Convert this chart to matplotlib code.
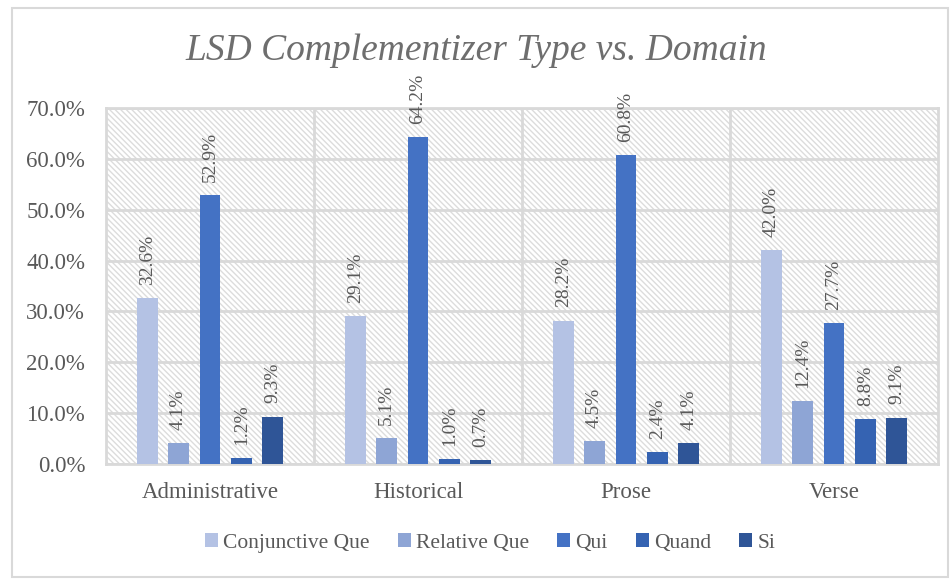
import numpy as np
import matplotlib.pyplot as plt
from matplotlib.patches import Rectangle
from matplotlib.ticker import FuncFormatter

domains = ["Administrative", "Historical", "Prose", "Verse"]
series = ["Conjunctive Que", "Relative Que", "Qui", "Quand", "Si"]
conj_que = [32.6, 29.1, 28.2, 42.0]
rel_que = [4.1, 5.1, 4.5, 12.4]
qui = [52.9, 64.2, 60.8, 27.7]
quand = [1.2, 1.0, 2.4, 8.8]
si = [9.3, 0.7, 4.1, 9.1]
colors = ["#B4C2E4", "#8EA5D5", "#4472C4", "#3563B2", "#2F5597"]

values = [conj_que, rel_que, qui, quand, si]
text_gray = "#595959"
grid_gray = "#D9D9D9"
font = "Liberation Serif"

fig = plt.figure(figsize=(9.52, 5.79), dpi=100)
fig.patches.append(Rectangle((12 / 952, 2 / 579), 936 / 952, 569 / 579,
                             transform=fig.transFigure, fill=False,
                             edgecolor=grid_gray, linewidth=1.5))
ax = fig.add_axes([106 / 952, 1 - 464 / 579, 832 / 952, 356 / 579])

# hatched plot background
ax.add_patch(Rectangle((0, 0), 1, 1, transform=ax.transAxes, facecolor="white",
                       hatch="\\\\\\\\\\\\", edgecolor="#DCDCDC", linewidth=0, zorder=0))

x = np.arange(len(domains))
slot = 0.151
width = 0.10
for i, (name, vals) in enumerate(zip(series, values)):
    pos = x + (i - 2) * slot
    ax.bar(pos, np.array(vals) / 100, width, color=colors[i], label=name, zorder=3)
    for px, v in zip(pos, vals):
        ax.text(px, v / 100 + 0.026, f"{v:.1f}%", rotation=90, ha="center", va="bottom",
                fontsize=14, color=text_gray, family=font, zorder=4)

ax.set_xlim(-0.5, len(domains) - 0.5)
ax.set_ylim(0, 0.7)
ax.set_yticks(np.arange(0, 0.71, 0.1))
ax.yaxis.set_major_formatter(FuncFormatter(lambda v, _: f"{v * 100:.1f}%"))
ax.set_xticks(x)
ax.set_xticklabels(domains)
ax.tick_params(length=0, labelsize=16.5, labelcolor=text_gray, pad=15)
for lab in ax.get_xticklabels() + ax.get_yticklabels():
    lab.set_family(font)
ax.tick_params(axis="x", pad=13)

ax.grid(axis="y", color=grid_gray, linewidth=2, zorder=1)
for b in x[:-1] + 0.5:
    ax.axvline(b, color=grid_gray, linewidth=2, zorder=1)
for s in ax.spines.values():
    s.set_color(grid_gray)
    s.set_linewidth(2)
ax.set_axisbelow(True)

fig.text(0.5, 1 - 51 / 579, "LSD Complementizer Type vs. Domain", ha="center", va="center",
         fontsize=27, style="italic", color="#6E6E6E", family=font)

leg = fig.legend(loc="center", bbox_to_anchor=(0.515, 1 - 543 / 579), ncol=5, frameon=False,
                 prop={"family": font, "size": 15.5}, handlelength=0.6, handleheight=0.6,
                 handletextpad=0.25, columnspacing=1.3)
for t in leg.get_texts():
    t.set_color(text_gray)

fig.savefig("out.png", dpi=100)
